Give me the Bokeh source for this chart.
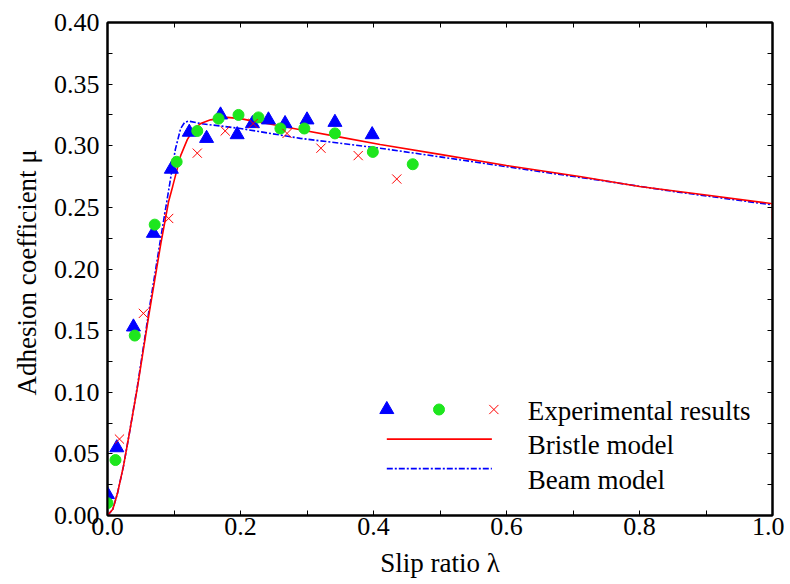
from bokeh.plotting import figure
from bokeh.models import Range1d, FixedTicker, LinearAxis, NumeralTickFormatter, CustomJSTickFormatter
from bokeh.core.properties import value
from bokeh.embed import file_html
from bokeh.resources import INLINE

# Experimental results (three data sets)
tri_x = [0.0, 0.014, 0.039, 0.069, 0.096, 0.123, 0.149, 0.170, 0.195, 0.218, 0.242, 0.267, 0.300, 0.342, 0.398]
tri_y = [0.017, 0.055, 0.153, 0.229, 0.281, 0.311, 0.306, 0.325, 0.309, 0.318, 0.321, 0.318, 0.321, 0.319, 0.309]

cir_x = [0.0, 0.012, 0.041, 0.071, 0.104, 0.135, 0.167, 0.197, 0.227, 0.260, 0.296, 0.342, 0.399, 0.459]
cir_y = [0.010, 0.045, 0.146, 0.236, 0.287, 0.312, 0.322, 0.325, 0.323, 0.314, 0.314, 0.310, 0.295, 0.285]

crs_x = [0.018, 0.054, 0.092, 0.135, 0.177, 0.219, 0.270, 0.321, 0.377, 0.435]
crs_y = [0.062, 0.164, 0.241, 0.294, 0.312, 0.318, 0.310, 0.298, 0.292, 0.273]

# Bristle model curve
bri_x = [0.0, 0.008, 0.015, 0.024, 0.033, 0.045, 0.062, 0.080, 0.092, 0.098, 0.110, 0.120, 0.129,
         0.140, 0.155, 0.180, 0.200, 0.219, 0.25, 0.29, 0.35, 0.41, 0.50, 0.60, 0.71, 0.80, 0.90, 1.0, 1.0]
bri_y = [0.0, 0.005, 0.018, 0.040, 0.067, 0.104, 0.162, 0.220, 0.255, 0.267, 0.292, 0.305, 0.313,
         0.318, 0.321, 0.323, 0.322, 0.320, 0.317, 0.313, 0.307, 0.301, 0.293, 0.284, 0.275, 0.267, 0.260, 0.253, 0.240]

# Beam model curve
beam_x = [0.0, 0.008, 0.015, 0.024, 0.033, 0.045, 0.062, 0.080, 0.092, 0.102, 0.110, 0.116, 0.122,
          0.140, 0.20, 0.29, 0.41, 0.50, 0.60, 0.74, 0.85, 1.0]
beam_y = [0.0, 0.005, 0.018, 0.040, 0.067, 0.105, 0.165, 0.225, 0.264, 0.297, 0.314, 0.319, 0.320,
          0.318, 0.314, 0.306, 0.298, 0.291, 0.283, 0.272, 0.263, 0.252]

x_ticks = [0.0, 0.2, 0.4, 0.6, 0.8, 1.0]
x_minor = [0.1, 0.3, 0.5, 0.7, 0.9]
y_ticks = [0.0, 0.05, 0.10, 0.15, 0.20, 0.25, 0.30, 0.35, 0.40]
y_minor = [0.025, 0.075, 0.125, 0.175, 0.225, 0.275, 0.325, 0.375]

legend_labels = ["Experimental results", "Bristle model", "Beam model"]

FONT = "Liberation Serif"
TICK_FS = "26px"
LABEL_FS = "27px"

p = figure(width=784, height=580, output_backend="svg", toolbar_location=None,
           x_range=Range1d(0, 1.0), y_range=Range1d(0, 0.4),
           min_border_left=107, min_border_right=12, min_border_top=22, min_border_bottom=64)
p.background_fill_color = "white"
p.border_fill_color = "white"
p.grid.visible = False
p.outline_line_color = "black"
p.outline_line_width = 2

def style_axis(ax):
    ax.axis_line_color = "black"
    ax.axis_line_width = 2
    ax.major_tick_in = 5
    ax.major_tick_out = 0
    ax.minor_tick_in = 5
    ax.minor_tick_out = 0
    ax.major_tick_line_color = "black"
    ax.minor_tick_line_color = "black"
    ax.major_label_text_font = FONT
    ax.major_label_text_font_size = TICK_FS
    ax.major_label_text_color = "black"
    ax.axis_label_text_font = FONT
    ax.axis_label_text_font_size = LABEL_FS
    ax.axis_label_text_font_style = "normal"
    ax.axis_label_text_color = "black"

p.xaxis.ticker = FixedTicker(ticks=x_ticks, minor_ticks=x_minor)
p.yaxis.ticker = FixedTicker(ticks=y_ticks, minor_ticks=y_minor)
p.xaxis.formatter = NumeralTickFormatter(format="0.0")
p.yaxis.formatter = NumeralTickFormatter(format="0.00")
p.xaxis.axis_label = "Slip ratio λ"
p.yaxis.axis_label = "Adhesion coefficient  μ"
for ax in list(p.xaxis) + list(p.yaxis):
    style_axis(ax)
p.xaxis.major_label_standoff = 2
p.xaxis.axis_label_standoff = 10
p.yaxis.major_label_standoff = 8
p.yaxis.axis_label_standoff = 9

blank = CustomJSTickFormatter(code="return '';")
top = LinearAxis(ticker=FixedTicker(ticks=x_ticks, minor_ticks=x_minor), formatter=blank)
right = LinearAxis(ticker=FixedTicker(ticks=y_ticks, minor_ticks=y_minor), formatter=blank)
style_axis(top)
style_axis(right)
top.major_label_standoff = 0
right.major_label_standoff = 0
p.add_layout(top, "above")
p.add_layout(right, "right")

# Models
p.line(beam_x, beam_y, line_color="#0000FF", line_width=1.6, line_dash="6 2 2 2")
p.line(bri_x, bri_y, line_color="#FF0000", line_width=1.6)

# Experimental data
p.scatter(tri_x, tri_y, marker="triangle", size=14, fill_color="#0000FF", line_color="#0000FF")
p.scatter(cir_x, cir_y, marker="circle", size=11, fill_color="#1EE61E", line_color="#1EE61E")
p.scatter(crs_x, crs_y, marker="x", size=13, line_color="#FF0000", line_width=1)

# Manual legend (positions in axis units)
lx = [0.420, 0.4985, 0.581]
ly = [0.086, 0.062, 0.038]
text_x = 0.632
p.scatter([lx[0]], [ly[0]], marker="triangle", size=14, fill_color="#0000FF", line_color="#0000FF")
p.scatter([lx[1]], [ly[0]], marker="circle", size=11, fill_color="#1EE61E", line_color="#1EE61E")
p.scatter([lx[2]], [ly[0]], marker="x", size=13, line_color="#FF0000", line_width=1)
p.line([0.42, 0.578], [ly[1], ly[1]], line_color="#FF0000", line_width=1.6)
p.line([0.42, 0.578], [ly[2], ly[2]], line_color="#0000FF", line_width=1.6, line_dash="6 2 2 2")
p.text([text_x] * 3, [0.0845, 0.0575, 0.029], text=legend_labels,
       text_font=value(FONT), text_font_size=LABEL_FS, text_baseline="middle", text_color="black")

open("out.html", "w").write(file_html(p, INLINE))
